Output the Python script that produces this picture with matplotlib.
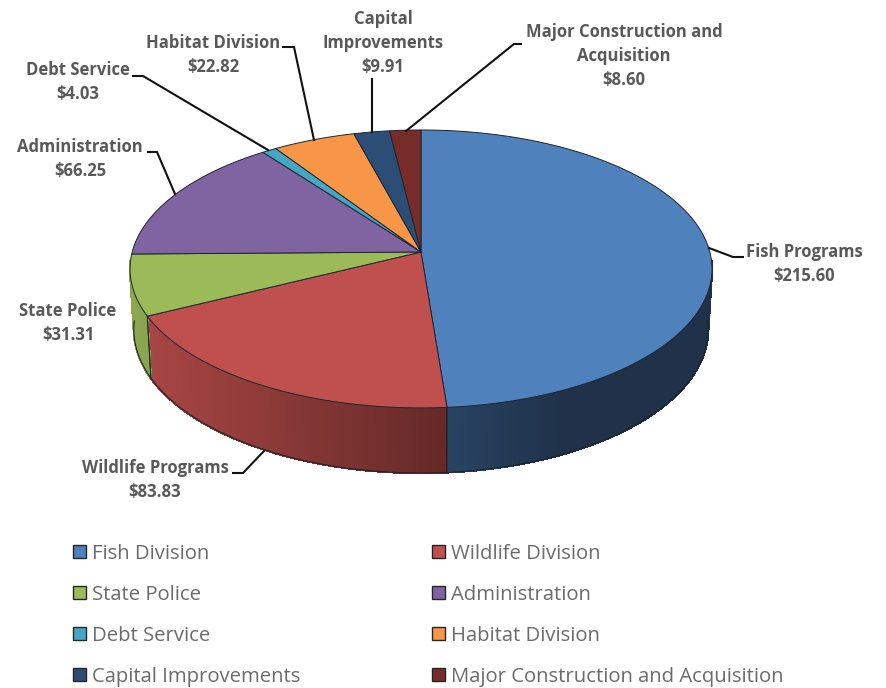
import numpy as np
import matplotlib
matplotlib.use("Agg")
import matplotlib.pyplot as plt
from matplotlib.patches import Polygon, Patch
from matplotlib.collections import PolyCollection
from matplotlib.colors import to_rgb

names = ["Fish Division", "Wildlife Division", "State Police", "Administration",
         "Debt Service", "Habitat Division", "Capital Improvements",
         "Major Construction and Acquisition"]
values = [215.60, 83.83, 31.31, 66.25, 4.03, 22.82, 9.91, 8.60]
labels = ["Fish Programs", "Wildlife Programs", "State Police", "Administration",
          "Debt Service", "Habitat Division", "Capital\nImprovements",
          "Major Construction and\nAcquisition"]
colors = ["#4f81bd", "#c0504d", "#9bbb59", "#8064a2", "#45a7c4", "#f79646", "#2c4d75", "#772c2a"]
label_pos = [(804, 264), (155, 480), (68, 323), (80, 159), (78, 82), (213, 55), (383, 43), (624, 56)]
leaders = [[(709, 248), (733, 257), (743, 257)],
           [(233, 473), (243, 473), (264, 451)],
           [(148, 152), (157, 152), (175, 194)],
           [(133, 76), (143, 76), (268, 150)],
           [(283, 47), (294, 47), (314, 140)],
           [(372, 79), (372, 132)],
           [(406, 131), (514, 44), (521, 44)]]

W, H = 886, 688
fig = plt.figure(figsize=(W / 100, H / 100), dpi=100)
ax = fig.add_axes([0, 0, 1, 1])
ax.set_xlim(0, W)
ax.set_ylim(H, 0)
ax.axis("off")

X0, Y0, B, A, K = 421.0, 252.0, 288.8, 136.9, -0.122
Y1, A1, XS = 311.7, 141.6, 0.987


def top(t):
    u, v = np.sin(t), -np.cos(t)
    w = 1 + K * v
    return X0 + B * u / w, Y0 + A * v / w


def bottom(t):
    u, v = np.sin(t), -np.cos(t)
    w = 1 + K * v
    return X0 + XS * B * u / w, Y1 + A1 * v / w


fractions = np.array(values) / sum(values)
edges = np.concatenate([[0], np.cumsum(fractions)]) * 2 * np.pi
edge_col = "#1c2530"

# side wall, near half only
for i, c in enumerate(colors):
    t = np.linspace(edges[i], edges[i + 1], max(3, int(fractions[i] * 900)))
    t = t[-np.cos(t) > 0.06]
    if len(t) < 2:
        continue
    xt, yt = top(t)
    xb, yb = bottom(t)
    polys, fcs = [], []
    rgb = np.array(to_rgb(c))
    for j in range(len(t) - 1):
        polys.append([(xt[j], yt[j]), (xt[j + 1], yt[j + 1]), (xb[j + 1], yb[j + 1]), (xb[j], yb[j])])
        xm = (xt[j] + xt[j + 1]) / 2
        fcs.append(rgb * np.interp(xm, [130, 150, 447, 560, 720], [0.9, 0.87, 0.52, 0.39, 0.39]))
    ax.add_collection(PolyCollection(polys, facecolors=fcs, edgecolors=fcs, linewidths=1.0,
                                     antialiased=False, zorder=2))
    ax.plot(xb, yb, color=edge_col, lw=0.8, zorder=3)
    for k in (0, -1):
        if t[k] in (edges[i], edges[i + 1]):
            ax.plot([xt[k], xb[k]], [yt[k], yb[k]], color=edge_col, lw=0.7, zorder=3)

# top face
for i, c in enumerate(colors):
    t = np.linspace(edges[i], edges[i + 1], max(3, int(fractions[i] * 800)))
    xt, yt = top(t)
    pts = np.column_stack([np.r_[X0, xt], np.r_[Y0, yt]])
    ax.add_patch(Polygon(pts, closed=True, facecolor=c, edgecolor=edge_col, lw=0.7, zorder=4))

# leaders and data labels
for pts in leaders:
    xs, ys = zip(*pts)
    ax.plot(xs, ys, color="#111111", lw=1.5, zorder=5, solid_joinstyle="miter")

for lab, v, (x, y) in zip(labels, values, label_pos):
    ax.text(x, y, f"{lab}\n${v:.2f}", ha="center", va="center", family="Open Sans",
            weight="bold", fontsize=12.0, color="#595959", linespacing=1.46, zorder=6)

handles = [Patch(facecolor=c, edgecolor="#262626", lw=1.0) for c in colors]
fs = 14.6
order = [0, 2, 4, 6, 1, 3, 5, 7]
leg = ax.legend([handles[i] for i in order], [names[i] for i in order], ncol=2, frameon=False,
                loc="upper left", bbox_to_anchor=(73 / W, 1 - 544 / H), borderaxespad=0, borderpad=0,
                prop={"family": "Open Sans", "size": fs}, labelcolor="#6b6b6b",
                handlelength=0.62, handleheight=0.62, handletextpad=0.3,
                labelspacing=1.03, columnspacing=6.53)

fig.savefig("out.png", dpi=100)
